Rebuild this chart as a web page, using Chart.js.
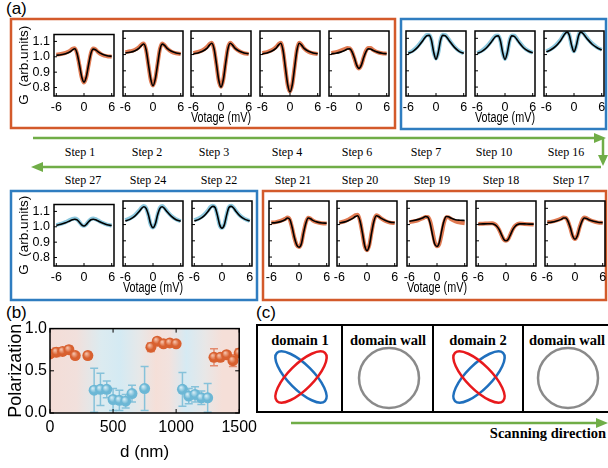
<!DOCTYPE html>
<html>
<head>
<meta charset="utf-8">
<script src="https://cdn.jsdelivr.net/npm/chart.js@4.4.1/dist/chart.umd.min.js"></script>
<style>
  body { margin: 0; background: #fff; }
  #fig { position: relative; width: 608px; height: 468px; overflow: hidden; background: #fff; }
  #fig canvas { position: absolute; }
  #art { position: absolute; left: 0; top: 0; }
  .serif { font-family: "Liberation Serif", "Times New Roman", serif; }
  .sans { font-family: "Liberation Sans", Arial, sans-serif; }
</style>
</head>
<body>
<div id="fig">
<svg id="art" width="608" height="468" xmlns="http://www.w3.org/2000/svg">
  <g class="sans" font-size="17">
    <text x="6" y="14">(a)</text>
    <text x="6" y="318">(b)</text>
    <text x="256" y="318">(c)</text>
  </g>
  <g fill="none" stroke-width="2.5">
    <rect x="11" y="19" width="384" height="109" stroke="#d35a2b"/>
    <rect x="401" y="19" width="205" height="110" stroke="#2f7dc0"/>
    <rect x="11" y="191" width="246" height="109" stroke="#2f7dc0"/>
    <rect x="263" y="191" width="343" height="109" stroke="#d35a2b"/>
  </g>
  <g stroke="#70ad47" stroke-width="2.5" fill="#70ad47">
    <line x1="33" y1="138" x2="596" y2="138"/>
    <polygon points="606,138 594,133 594,143" stroke="none"/>
    <line x1="603" y1="138" x2="603" y2="156"/>
    <polygon points="603,166 598,155 608,155" stroke="none"/>
    <line x1="601" y1="167" x2="42" y2="167"/>
    <polygon points="31,167 43,162 43,172" stroke="none"/>
  </g>
  <g class="serif" font-family="Liberation Serif" font-size="12" text-anchor="middle">
    <text x="80" y="156">Step 1</text>
    <text x="147" y="156">Step 2</text>
    <text x="214" y="156">Step 3</text>
    <text x="287" y="156">Step 4</text>
    <text x="357" y="156">Step 6</text>
    <text x="426" y="156">Step 7</text>
    <text x="494" y="156">Step 10</text>
    <text x="566" y="156">Step 16</text>
    <text x="83" y="184">Step 27</text>
    <text x="148" y="184">Step 24</text>
    <text x="219" y="184">Step 22</text>
    <text x="293" y="184">Step 21</text>
    <text x="360" y="184">Step 20</text>
    <text x="432" y="184">Step 19</text>
    <text x="501" y="184">Step 18</text>
    <text x="571" y="184">Step 17</text>
  </g>
  <g fill="none" stroke="#000" stroke-width="2">
    <rect x="257" y="325" width="360" height="87"/>
    <line x1="342" y1="325" x2="342" y2="412"/>
    <line x1="433" y1="325" x2="433" y2="412"/>
    <line x1="523" y1="325" x2="523" y2="412"/>
  </g>
  <g class="serif" font-weight="bold" font-size="14.5" text-anchor="middle">
    <text x="300" y="345">domain 1</text>
    <text x="388" y="345">domain wall</text>
    <text x="478" y="345">domain 2</text>
    <text x="567" y="345">domain wall</text>
    <text x="606" y="438" text-anchor="end">Scanning direction</text>
  </g>
  <g fill="none" stroke-width="2.5">
    <ellipse cx="301" cy="377" rx="34" ry="12.5" transform="rotate(45 301 377)" stroke="#1f6fbd"/>
    <ellipse cx="301" cy="377" rx="34" ry="12.5" transform="rotate(-45 301 377)" stroke="#e8191c"/>
    <circle cx="389" cy="378" r="30" stroke="#8a8a8a"/>
    <ellipse cx="479" cy="377" rx="34" ry="12.5" transform="rotate(-45 479 377)" stroke="#1f6fbd"/>
    <ellipse cx="479" cy="377" rx="34" ry="12.5" transform="rotate(45 479 377)" stroke="#e8191c"/>
    <circle cx="568" cy="378" r="30" stroke="#8a8a8a"/>
  </g>
  <g stroke="#70ad47" stroke-width="2.5" fill="#70ad47">
    <line x1="291" y1="423" x2="597" y2="423"/>
    <polygon points="608,423 596,418 596,428" stroke="none"/>
  </g>
</svg>
</div>
<script>
// bias voltage grid (mV) shared by every spectrum
const V = [-6, -5, -4, -3, -2.5, -2, -1.5, -1, -0.5, 0, 0.5, 1, 1.5, 2, 2.5, 3, 4, 5, 6];
const vTicks = [-6, 0, 6];
const gTicks = [0.8, 0.9, 1.0, 1.1];

// normalised conductance, measured (coloured) and fit (black)
const step1    = [1.014, 1.018, 1.026, 1.040, 1.052, 1.056, 1.020, 0.945, 0.865, 0.832, 0.868, 0.948, 1.025, 1.054, 1.048, 1.032, 1.012, 1.004, 1.001];
const step1Fit = [1.010, 1.013, 1.020, 1.033, 1.045, 1.052, 1.022, 0.950, 0.870, 0.835, 0.870, 0.950, 1.022, 1.050, 1.046, 1.033, 1.016, 1.007, 1.003];
const step2    = [1.015, 1.020, 1.028, 1.046, 1.062, 1.068, 1.028, 0.935, 0.845, 0.810, 0.852, 0.945, 1.034, 1.068, 1.058, 1.040, 1.018, 1.008, 1.004];
const step2Fit = [1.010, 1.014, 1.022, 1.040, 1.055, 1.065, 1.030, 0.940, 0.850, 0.808, 0.850, 0.940, 1.030, 1.064, 1.056, 1.040, 1.020, 1.010, 1.005];
const step3    = [1.010, 1.016, 1.027, 1.048, 1.065, 1.072, 1.032, 0.940, 0.840, 0.802, 0.848, 0.950, 1.040, 1.072, 1.060, 1.042, 1.020, 1.008, 1.004];
const step3Fit = [1.005, 1.010, 1.020, 1.040, 1.058, 1.070, 1.035, 0.945, 0.845, 0.800, 0.845, 0.945, 1.035, 1.070, 1.058, 1.040, 1.020, 1.010, 1.005];
const step4    = [1.010, 1.015, 1.026, 1.047, 1.064, 1.073, 1.022, 0.915, 0.812, 0.772, 0.818, 0.925, 1.030, 1.072, 1.060, 1.040, 1.018, 1.008, 1.004];
const step4Fit = [1.005, 1.010, 1.020, 1.040, 1.058, 1.070, 1.025, 0.920, 0.815, 0.770, 0.815, 0.920, 1.025, 1.070, 1.058, 1.040, 1.020, 1.010, 1.005];
const step6    = [1.010, 1.015, 1.024, 1.035, 1.041, 1.039, 1.017, 0.976, 0.932, 0.915, 0.936, 0.982, 1.022, 1.040, 1.040, 1.030, 1.015, 1.008, 1.005];
const step6Fit = [1.005, 1.008, 1.015, 1.027, 1.034, 1.035, 1.017, 0.980, 0.935, 0.915, 0.935, 0.980, 1.017, 1.035, 1.034, 1.027, 1.015, 1.008, 1.005];
const step7    = [1.010, 1.024, 1.050, 1.086, 1.106, 1.120, 1.120, 1.090, 1.012, 0.975, 1.012, 1.092, 1.122, 1.120, 1.104, 1.084, 1.048, 1.022, 1.008];
const step7Fit = [1.007, 1.020, 1.044, 1.080, 1.100, 1.116, 1.118, 1.090, 1.015, 0.972, 1.015, 1.090, 1.118, 1.116, 1.100, 1.080, 1.044, 1.020, 1.007];
const step10    = [1.010, 1.024, 1.048, 1.082, 1.102, 1.116, 1.117, 1.086, 1.010, 0.973, 1.012, 1.088, 1.118, 1.116, 1.100, 1.080, 1.046, 1.024, 1.011];
const step10Fit = [1.007, 1.020, 1.042, 1.076, 1.096, 1.112, 1.115, 1.085, 1.012, 0.970, 1.012, 1.085, 1.115, 1.112, 1.096, 1.076, 1.042, 1.022, 1.010];
const step16    = [1.020, 1.034, 1.056, 1.088, 1.110, 1.130, 1.140, 1.118, 1.052, 1.020, 1.056, 1.120, 1.140, 1.132, 1.114, 1.096, 1.066, 1.044, 1.030];
const step16Fit = [1.017, 1.030, 1.050, 1.082, 1.104, 1.126, 1.138, 1.118, 1.055, 1.017, 1.055, 1.118, 1.138, 1.128, 1.110, 1.092, 1.062, 1.042, 1.028];
const step27    = [1.012, 1.019, 1.030, 1.045, 1.051, 1.054, 1.048, 1.031, 1.012, 1.006, 1.016, 1.036, 1.050, 1.054, 1.050, 1.042, 1.026, 1.014, 1.008];
const step27Fit = [1.010, 1.016, 1.026, 1.040, 1.046, 1.049, 1.045, 1.030, 1.013, 1.005, 1.015, 1.033, 1.046, 1.049, 1.046, 1.039, 1.024, 1.013, 1.008];
const step24    = [1.027, 1.038, 1.056, 1.086, 1.104, 1.114, 1.102, 1.058, 1.000, 0.982, 1.004, 1.062, 1.104, 1.114, 1.102, 1.083, 1.052, 1.032, 1.021];
const step24Fit = [1.022, 1.032, 1.050, 1.080, 1.098, 1.110, 1.100, 1.060, 1.003, 0.980, 1.003, 1.060, 1.100, 1.110, 1.098, 1.080, 1.050, 1.030, 1.020];
const step22    = [1.027, 1.038, 1.057, 1.088, 1.108, 1.116, 1.106, 1.056, 0.996, 0.980, 1.000, 1.060, 1.108, 1.116, 1.105, 1.085, 1.052, 1.034, 1.023];
const step22Fit = [1.022, 1.032, 1.050, 1.082, 1.102, 1.112, 1.105, 1.058, 0.998, 0.978, 0.998, 1.058, 1.105, 1.112, 1.102, 1.082, 1.050, 1.032, 1.022];
const step21    = [1.012, 1.015, 1.022, 1.035, 1.043, 1.030, 0.980, 0.918, 0.874, 0.862, 0.884, 0.955, 1.014, 1.042, 1.036, 1.025, 1.013, 1.008, 1.006];
const step21Fit = [1.010, 1.012, 1.018, 1.030, 1.040, 1.032, 0.985, 0.920, 0.875, 0.860, 0.880, 0.950, 1.010, 1.040, 1.036, 1.026, 1.015, 1.010, 1.008];
const step20    = [1.013, 1.019, 1.031, 1.048, 1.058, 1.060, 1.020, 0.945, 0.866, 0.842, 0.874, 0.955, 1.026, 1.058, 1.052, 1.040, 1.022, 1.012, 1.010];
const step20Fit = [1.010, 1.015, 1.025, 1.040, 1.050, 1.054, 1.020, 0.950, 0.870, 0.840, 0.870, 0.950, 1.020, 1.054, 1.050, 1.040, 1.025, 1.015, 1.012];
const step19    = [1.015, 1.020, 1.028, 1.040, 1.046, 1.046, 1.022, 0.962, 0.893, 0.866, 0.880, 0.940, 1.010, 1.045, 1.045, 1.034, 1.020, 1.012, 1.008];
const step19Fit = [1.020, 1.025, 1.032, 1.042, 1.050, 1.046, 1.010, 0.940, 0.880, 0.865, 0.890, 0.960, 1.020, 1.050, 1.048, 1.040, 1.030, 1.027, 1.025];
const step18    = [1.004, 1.005, 1.007, 1.008, 1.003, 0.991, 0.968, 0.937, 0.908, 0.900, 0.912, 0.943, 0.973, 0.993, 1.003, 1.006, 1.004, 1.002, 1.000];
const step18Fit = [1.003, 1.004, 1.005, 1.005, 1.000, 0.990, 0.970, 0.940, 0.910, 0.900, 0.910, 0.940, 0.970, 0.990, 1.000, 1.004, 1.004, 1.003, 1.003];
const step17    = [1.014, 1.018, 1.026, 1.037, 1.044, 1.042, 1.018, 0.976, 0.928, 0.911, 0.933, 0.984, 1.024, 1.043, 1.040, 1.031, 1.019, 1.012, 1.010];
const step17Fit = [1.012, 1.015, 1.022, 1.032, 1.040, 1.040, 1.020, 0.980, 0.930, 0.910, 0.930, 0.980, 1.020, 1.040, 1.038, 1.030, 1.020, 1.014, 1.012];

// panel (b): polarization vs position
const domainD = [0, 50, 100, 150, 200, 300, 800, 850, 900, 950, 1000, 1300, 1350, 1400, 1450, 1500];
const domainP = [0.70, 0.72, 0.73, 0.75, 0.68, 0.68, 0.78, 0.85, 0.82, 0.83, 0.82, 0.66, 0.66, 0.69, 0.62, 0.71];
const domainErr = [0.04, 0.05, 0.03, 0.04, 0.02, 0.04, 0.05, 0.03, 0.04, 0.02, 0.03, 0.10, 0.04, 0.03, 0.07, 0.05];
const wallD = [350, 400, 450, 500, 550, 600, 650, 750, 1050, 1100, 1150, 1200, 1250];
const wallP = [0.27, 0.28, 0.28, 0.16, 0.15, 0.14, 0.23, 0.29, 0.28, 0.20, 0.22, 0.18, 0.18];
const wallErr = [0.26, 0.19, 0.10, 0.13, 0.12, 0.08, 0.10, 0.26, 0.20, 0.09, 0.09, 0.08, 0.17];
const dTicks = [0, 500, 1000, 1500];
const pTicks = [0, 0.5, 1.0];

Chart.defaults.font.family = "'Liberation Sans', Arial, sans-serif";
Chart.defaults.color = '#000';

const ORANGE = '#e07a52';
const LIGHTBLUE = '#8cc8de';
const fig = document.getElementById('fig');
const pts = (xs, ys) => xs.map((x, i) => ({ x: x, y: ys[i] }));
const tickList = list => s => { s.ticks = list.map(v => ({ value: v })); };

function addCanvas(left, top, w, h) {
  const cv = document.createElement('canvas');
  cv.width = w; cv.height = h;
  cv.style.left = left + 'px'; cv.style.top = top + 'px';
  cv.style.width = w + 'px'; cv.style.height = h + 'px';
  fig.appendChild(cv);
  return cv;
}

// box round the plot area + short inward ticks
const frame = {
  id: 'frame',
  afterDatasetsDraw(chart, args, opts) {
    const { ctx, chartArea: a, scales } = chart;
    const L = opts.tick || 3;
    ctx.save();
    ctx.strokeStyle = '#000';
    ctx.lineWidth = opts.width || 1.5;
    ctx.strokeRect(a.left, a.top, a.width, a.height);
    ctx.beginPath();
    scales.y.ticks.forEach(t => {
      const py = scales.y.getPixelForValue(t.value);
      ctx.moveTo(a.left, py); ctx.lineTo(a.left + L, py);
      if (opts.all) { ctx.moveTo(a.right, py); ctx.lineTo(a.right - L, py); }
    });
    scales.x.ticks.forEach(t => {
      const px = scales.x.getPixelForValue(t.value);
      ctx.moveTo(px, a.bottom); ctx.lineTo(px, a.bottom - L);
      if (opts.all) { ctx.moveTo(px, a.top); ctx.lineTo(px, a.top + L); }
    });
    ctx.lineWidth = 1;
    ctx.stroke();
    ctx.restore();
  }
};

function spectrum(left, top, meas, fit, color, showY, showX) {
  const padL = showY ? 46 : 10, padR = 8, padT = 8, axH = 31, W = 60, H = 65;
  const cv = addCanvas(left - padL, top - padT, W + padL + padR, H + padT + axH);
  new Chart(cv, {
    type: 'line',
    data: {
      datasets: [
        { data: pts(V, fit), borderColor: '#000', borderWidth: 1.6 },
        { data: pts(V, meas), borderColor: color, borderWidth: 4 }
      ]
    },
    options: {
      responsive: false,
      animation: false,
      layout: { padding: { left: 0, right: padR, top: padT, bottom: 0 } },
      plugins: { legend: { display: false }, tooltip: { enabled: false }, frame: { tick: 3 } },
      elements: { point: { radius: 0 }, line: { cubicInterpolationMode: 'monotone' } },
      scales: {
        x: {
          type: 'linear', min: -6.5, max: 6.5,
          afterBuildTicks: tickList(vTicks),
          afterFit: s => { s.height = axH; },
          grid: { display: false, drawTicks: false },
          border: { display: false },
          ticks: { font: { size: 12.5 }, padding: 4, maxRotation: 0, autoSkip: false },
          title: { display: showX, text: 'Votage (mV)', font: { size: 14 }, padding: { top: 0, bottom: 0 } }
        },
        y: {
          min: 0.745, max: 1.145,
          afterBuildTicks: tickList(gTicks),
          afterFit: s => { s.width = padL; },
          grid: { display: false, drawTicks: false },
          border: { display: false },
          ticks: { display: showY, font: { size: 12.5 }, padding: 4, callback: v => v.toFixed(1) },
          title: { display: showY, text: 'G  (arb.units)', font: { size: 13.5 }, padding: { top: 8, bottom: 0 } }
        }
      }
    },
    plugins: [frame]
  });
}

// row 1
spectrum(54, 31, step1, step1Fit, ORANGE, true, false);
spectrum(123, 31, step2, step2Fit, ORANGE, false, false);
spectrum(191, 31, step3, step3Fit, ORANGE, false, true);
spectrum(260, 31, step4, step4Fit, ORANGE, false, false);
spectrum(329, 31, step6, step6Fit, ORANGE, false, false);
spectrum(406, 31, step7, step7Fit, LIGHTBLUE, false, false);
spectrum(475, 31, step10, step10Fit, LIGHTBLUE, false, true);
spectrum(544, 31, step16, step16Fit, LIGHTBLUE, false, false);
// row 2
spectrum(54, 201, step27, step27Fit, LIGHTBLUE, true, false);
spectrum(123, 201, step24, step24Fit, LIGHTBLUE, false, true);
spectrum(192, 201, step22, step22Fit, LIGHTBLUE, false, false);
spectrum(269, 201, step21, step21Fit, ORANGE, false, false);
spectrum(337, 201, step20, step20Fit, ORANGE, false, false);
spectrum(407, 201, step19, step19Fit, ORANGE, false, true);
spectrum(476, 201, step18, step18Fit, ORANGE, false, false);
spectrum(545, 201, step17, step17Fit, ORANGE, false, false);

// ---- panel (b) ----
const bandStops = [
  [0, '#f4ddd7'], [0.14, '#f1e0dc'], [0.27, '#dcebf0'], [0.37, '#d4eaf3'],
  [0.47, '#e6e8e9'], [0.56, '#f5dfd8'], [0.63, '#f2e2de'], [0.72, '#d6eaf3'],
  [0.82, '#e8e7e7'], [0.91, '#f5dfd8'], [1, '#f5dfd8']
];
const bgBands = {
  id: 'bgBands',
  beforeDraw(chart) {
    const { ctx, chartArea: a } = chart;
    const g = ctx.createLinearGradient(a.left, 0, a.right, 0);
    bandStops.forEach(s => g.addColorStop(s[0], s[1]));
    ctx.save();
    ctx.fillStyle = g;
    ctx.fillRect(a.left, a.top, a.width, a.height);
    ctx.restore();
  }
};
const errorBars = {
  id: 'errorBars',
  beforeDatasetsDraw(chart) {
    const { ctx, chartArea: a, scales: { x, y } } = chart;
    ctx.save();
    ctx.beginPath(); ctx.rect(a.left, a.top, a.width, a.height); ctx.clip();
    chart.data.datasets.forEach(ds => {
      ctx.strokeStyle = ds.errColor;
      ctx.lineWidth = 1.5;
      ds.data.forEach((p, i) => {
        const px = x.getPixelForValue(p.x);
        const t = y.getPixelForValue(p.y + ds.err[i]);
        const b = y.getPixelForValue(p.y - ds.err[i]);
        ctx.beginPath();
        ctx.moveTo(px, t); ctx.lineTo(px, b);
        ctx.moveTo(px - 4, t); ctx.lineTo(px + 4, t);
        ctx.moveTo(px - 4, b); ctx.lineTo(px + 4, b);
        ctx.stroke();
      });
    });
    ctx.restore();
  }
};
function ball(base, light) {
  return c => {
    if (c.type !== 'data' || !c.parsed) return base;
    const sx = c.chart.scales.x, sy = c.chart.scales.y;
    if (!sx || !sy) return base;
    const px = sx.getPixelForValue(c.parsed.x), py = sy.getPixelForValue(c.parsed.y);
    if (!isFinite(px) || !isFinite(py)) return base;
    const g = c.chart.ctx.createRadialGradient(px - 1.5, py - 2, 0.5, px, py, 6);
    g.addColorStop(0, light);
    g.addColorStop(0.55, base);
    g.addColorStop(1, base);
    return g;
  };
}

const bcv = addCanvas(0, 316, 262, 152);
new Chart(bcv, {
  type: 'scatter',
  data: {
    datasets: [
      { data: pts(domainD, domainP), err: domainErr, errColor: '#e38a6e',
        backgroundColor: ball('#d8602f', '#f4bca3'), borderWidth: 0, pointRadius: 5.5, clip: 0 },
      { data: pts(wallD, wallP), err: wallErr, errColor: '#86c2da',
        backgroundColor: ball('#6cb7d5', '#cfe9f3'), borderWidth: 0, pointRadius: 5.5, clip: 0 }
    ]
  },
  options: {
    responsive: false,
    animation: false,
    layout: { padding: { left: 0, right: 22, top: 11, bottom: 0 } },
    plugins: { legend: { display: false }, tooltip: { enabled: false }, frame: { tick: 4, all: true } },
    scales: {
      x: {
        type: 'linear', min: 0, max: 1500,
        afterBuildTicks: tickList(dTicks),
        afterFit: s => { s.height = 55; },
        grid: { display: false, drawTicks: false },
        border: { display: false },
        ticks: { font: { size: 16 }, padding: 5, maxRotation: 0, autoSkip: false, callback: v => String(v) },
        title: { display: true, text: 'd (nm)', font: { size: 17 }, padding: { top: 0, bottom: 5 } }
      },
      y: {
        min: 0, max: 1,
        afterBuildTicks: tickList(pTicks),
        afterFit: s => { s.width = 50; },
        grid: { display: false, drawTicks: false },
        border: { display: false },
        ticks: { font: { size: 16 }, padding: 3, callback: v => v.toFixed(1) },
        title: { display: true, text: 'Polarization', font: { size: 18 }, padding: { top: 5, bottom: 0 } }
      }
    }
  },
  plugins: [bgBands, errorBars, frame]
});
</script>
</body>
</html>
